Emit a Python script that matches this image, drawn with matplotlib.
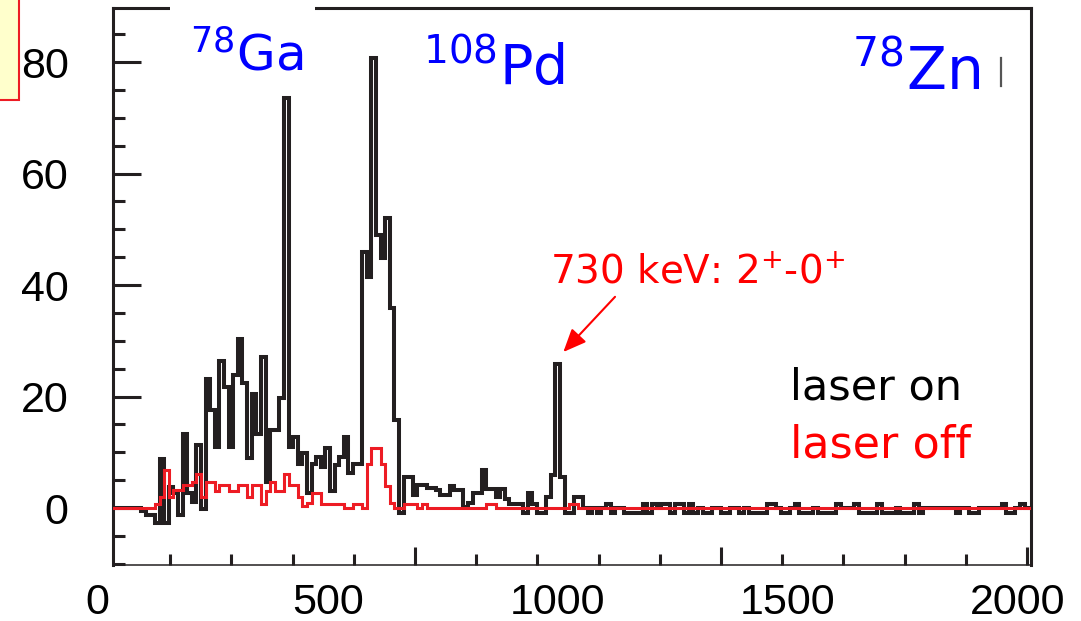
import matplotlib.pyplot as plt
import numpy as np
from matplotlib.patches import Rectangle
from matplotlib.lines import Line2D
from matplotlib.ticker import FixedLocator, MultipleLocator

# histogram binning (energy axis units)
bin_lo = 25
bin_w = 10

# counts per bin, laser on (background subtracted, can go negative)
laser_on = [
    0, 0, 0, 0, 0, 0,
    0, -0.5, -1.3, -1.3, -2.6, 8.8, -2.6, 3.8, 2.7, -1.3,
    13.3, 2.7, 1.1, 11.3, -0.2, 23.1, 17.6, 11.0, 26.4, 21.8,
    11.0, 23.9, 30.3, 22.4, 9.0, 20.4, 13.3, 27.1, 4.7, 14.0,
    14.0, 19.7, 73.5, 11.0, 12.8, 8.0, 9.8, 2.7, 8.0, 9.2,
    7.4, 10.7, 3.0, 7.8, 9.2, 12.7, 6.3, 8.0, 8.0, 46.0,
    41.5, 80.7, 49.0, 44.8, 52.0, 35.9, 15.8, -0.9, 5.5, 5.5,
    2.4, 4.1, 4.1, 3.6, 3.6, 3.2, 2.4, 2.4, 4.0, 3.2,
    3.2, 0.2, 1.0, 2.8, 2.8, 6.8, 3.5, 3.5, 2.0, 3.5,
    1.6, 0.8, 0.8, 0.8, -0.8, 2.8, 0.8, -0.8, -0.8, 2.0,
    6.0, 25.8, 5.5, -0.8, -0.8, 2.0, 2.0, 0, -0.8, 0,
    -0.8, 0, 0.8, -0.8, 0, 0, -0.8, -0.8, -0.8, -0.8,
    0.8, -0.8, 0.8, 0, 0.8, 0.8, -0.8, 0.8, 0.8, -0.8,
    0.8, -0.8, 0, -0.8, -0.8, 0, 0, -0.8, -0.8, 0,
    0, -0.8, 0, -0.8, -0.8, -0.8, -0.8, 0.8, 0.8, 0,
    -0.8, -0.8, 0, 0.8, -0.8, -0.8, -0.8, 0, -0.8, -0.8,
    -0.8, -0.8, 0.8, 0, 0, 0, 0.8, -0.8, -0.8, -0.8,
    -0.8, 0.8, -0.8, -0.8, -0.8, 0, -0.8, -0.8, -0.8, 0.8,
    -0.8, 0, 0, 0, 0, 0, 0, 0, -0.8, 0,
    0, -0.8, -0.8, 0, 0, 0, 0, 0, 0.8, -0.8,
    -0.8, 0, 0.8, 0,
    0,
]

# counts per bin, laser off
laser_off = [
    0, 0, 0, 0, 0, 0,
    0, 0, 0, 0, 0.8, 2.0, 6.8, 2.0, 3.2, 3.2,
    4.1, 4.1, 4.7, 6.1, 2.0, 4.7, 4.7, 3.0, 4.1, 4.1,
    3.0, 3.0, 4.1, 4.1, 2.0, 4.1, 4.1, 0.8, 3.0, 4.7,
    3.0, 3.0, 6.1, 4.1, 4.1, 2.0, 0.3, 0.9, 2.8, 2.8,
    0.7, 0.7, 0.7, 0.7, 0.7, 0, 0, 0.7, 0.7, 0,
    8.0, 10.7, 10.7, 8.0, 4.0, 0.9, 0, 0, 0.7, 0.7,
    0.7, 0, 0.7, 0, 0, 0, 0, 0, 0, 0,
    0, 0, 0, 0, 0, 0, 0.8, 0.8, 0, 0,
    0, 0, 0, 0, 0, 0, 0, 0, 0, 0,
    0, 0, 0, 0, 0.8, 0.8, 0, 0, 0, 0,
    0, 0, 0, 0, 0, 0, 0, 0, 0, 0,
    0, 0, 0, 0, 0, 0, 0, 0, 0, 0,
    0, 0, 0, 0, 0, 0, 0, 0, 0, 0,
    0, 0, 0, 0, 0, 0, 0, 0, 0, 0,
    0, 0, 0, 0, 0, 0, 0, 0, 0, 0,
    0, 0, 0, 0, 0, 0, 0, 0, 0, 0,
    0, 0, 0, 0, 0, 0, 0, 0, 0, 0,
    0, 0, 0, 0, 0, 0, 0, 0, 0, 0,
    0, 0, 0, 0, 0, 0, 0, 0, 0, 0,
    0, 0, 0, 0,
    0,
]

xlabels = [0, 500, 1000, 1500, 2000]
ylabels = [0, 20, 40, 60, 80]

ink = '#231f20'
red = '#ed1c24'
tick_font = 'Liberation Sans'
note_font = 'DejaVu Sans'

W, H = 1081, 621
fig = plt.figure(figsize=(W / 100, H / 100), dpi=100)
ax = fig.add_axes([113 / W, 1 - 565 / H, 918 / W, 557 / H])


def fpx(x, y):
    # figure position from pixel coordinates (origin top left)
    return x / W, 1 - y / H


edges = bin_lo + bin_w * np.arange(len(laser_on) + 1)
ax.stairs(laser_on, edges, baseline=None, color=ink, lw=2.9, zorder=2)
ax.stairs(laser_off, edges, baseline=None, color=red, lw=2.2, zorder=3)

ax.set_xlim(33.5, 2029)
ax.set_ylim(-10.2, 89.7)

# spines
for side in ['left', 'top', 'right']:
    ax.spines[side].set_linewidth(2.2)
    ax.spines[side].set_color(ink)
ax.spines['bottom'].set_linewidth(1.1)
ax.spines['bottom'].set_color(ink)

# x ticks: detector divisions, numbers are written separately
step = 133.04
ax.xaxis.set_major_locator(FixedLocator([690, 690 + 5 * step, 690 + 10 * step]))
ax.xaxis.set_minor_locator(FixedLocator(np.arange(690 - 4 * step, 2029, step)))
ax.tick_params(axis='x', which='both', direction='in', labelbottom=False,
               width=2.2, color=ink)
ax.tick_params(axis='x', which='major', length=13)
ax.tick_params(axis='x', which='minor', length=8)

ax.yaxis.set_major_locator(FixedLocator(ylabels))
ax.yaxis.set_minor_locator(MultipleLocator(5))
ax.tick_params(axis='y', which='both', direction='in', width=2.2, color=ink)
ax.tick_params(axis='y', which='major', length=20, pad=32, labelsize=31)
ax.tick_params(axis='y', which='minor', length=8.6)
for lab in ax.get_yticklabels():
    lab.set_family(tick_font)

for v in xlabels:
    ax.text(v, -49 / 557, str(v), transform=ax.get_xaxis_transform(),
            ha='center', va='baseline', fontsize=31, family=tick_font,
            clip_on=False)

# white box over the top frame behind the Ga label
fig.add_artist(Rectangle(fpx(170, 20), 145 / W, 20 / H, transform=fig.transFigure,
                         facecolor='white', edgecolor='none', zorder=5))
# yellow note box cut at the corner
fig.add_artist(Rectangle(fpx(-10, 100), 29 / W, 110 / H, transform=fig.transFigure,
                         facecolor='#ffffcc', edgecolor=red, lw=1.5, zorder=5))
fig.add_artist(Line2D([1001 / W, 1001 / W], [1 - 58 / H, 1 - 86 / H],
                      transform=fig.transFigure, color='#555555', lw=1.6, zorder=5))

# isotope labels
fig.text(*fpx(190, 70), r'$^{78}$Ga', color='blue', fontsize=36, family=note_font,
         va='baseline', zorder=6)
fig.text(*fpx(423, 85), r'$^{108}$Pd', color='blue', fontsize=40, family=note_font,
         va='baseline', zorder=6)
fig.text(*fpx(852, 90), r'$^{78}$Zn', color='blue', fontsize=42, family=note_font,
         va='baseline', zorder=6)

# transition label and arrow
fig.text(*fpx(550, 283), r'730 keV: 2$^{+}$-0$^{+}$', color='#ff0000', fontsize=28,
         family=note_font, va='baseline', zorder=6)
ax.annotate('', xy=(1012.4, 28.0), xytext=(1124.8, 37.9),
            arrowprops=dict(arrowstyle='-|>,head_length=0.7,head_width=0.3',
                            color='#ff0000', lw=1.5, shrinkA=0, shrinkB=0,
                            mutation_scale=20))

fig.text(*fpx(790, 400), 'laser on', color='black', fontsize=31, family=note_font,
         va='baseline', zorder=6)
fig.text(*fpx(790, 458), 'laser off', color='#ff0000', fontsize=32, family=note_font,
         va='baseline', zorder=6)

fig.savefig('out.png', dpi=100)
